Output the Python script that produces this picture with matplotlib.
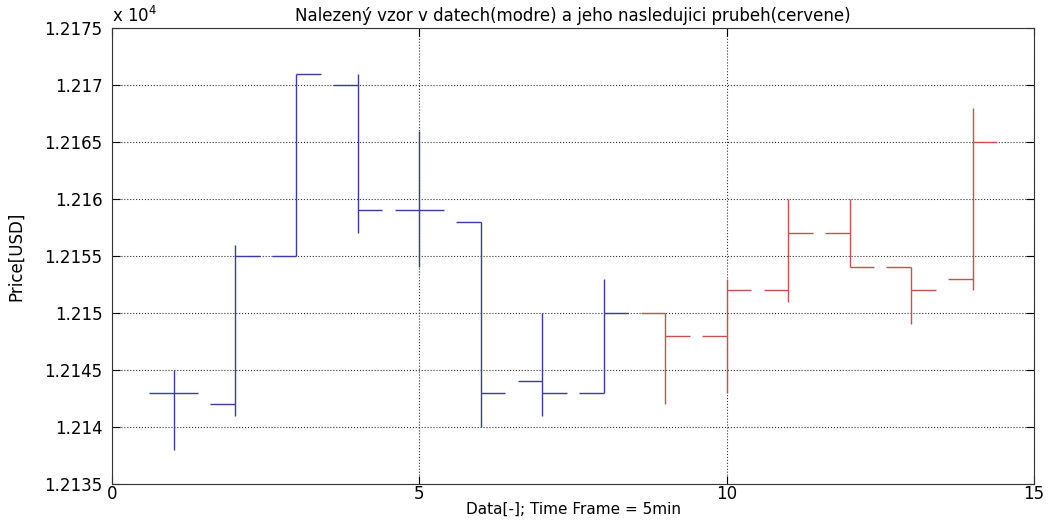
import numpy as np
import matplotlib.pyplot as plt
from matplotlib.ticker import FuncFormatter

plt.rcParams['font.family'] = ['DejaVu Sans']

# OHLC bars: found pattern (blue) and what followed it (red)
x_pattern = [1, 2, 3, 4, 5, 6, 7, 8]
open_pattern = [12143, 12142, 12155, 12170, 12159, 12158, 12144, 12143]
high_pattern = [12145, 12156, 12171, 12171, 12166, 12158, 12150, 12153]
low_pattern = [12138, 12141, 12155, 12157, 12154, 12140, 12141, 12143]
close_pattern = [12143, 12155, 12171, 12159, 12159, 12143, 12143, 12150]

x_next = [9, 10, 11, 12, 13, 14]
open_next = [12150, 12148, 12152, 12157, 12154, 12153]
high_next = [12150, 12153, 12160, 12160, 12154, 12168]
low_next = [12142, 12143, 12151, 12154, 12149, 12152]
close_next = [12148, 12152, 12157, 12154, 12152, 12165]

yticks = [12135, 12140, 12145, 12150, 12155, 12160, 12165, 12170, 12175]
xticks = [0, 5, 10, 15]


def highlow(ax, x, o, h, l, c, color, w=0.4):
    x = np.asarray(x, dtype=float)
    ax.vlines(x, l, h, color=color, lw=1.0)
    ax.hlines(o, x - w, x, color=color, lw=1.0)
    ax.hlines(c, x, x + w, color=color, lw=1.0)


fig = plt.figure(figsize=(10.54, 5.24), dpi=100)
ax = fig.add_axes([0.1063, 0.0763, 0.8747, 0.8703])

highlow(ax, x_pattern, open_pattern, high_pattern, low_pattern, close_pattern, '#3c3ca0')
highlow(ax, x_next, open_next, high_next, low_next, close_next, '#c85050')

ax.set_xlim(0, 15)
ax.set_ylim(12135, 12175)
ax.set_xticks(xticks)
ax.set_yticks(yticks)
ax.yaxis.set_major_formatter(FuncFormatter(lambda v, p: '%g' % round(v / 1e4, 4)))
ax.grid(True, linestyle=':', color='#333333', lw=0.8)
ax.tick_params(direction='in', length=6, top=True, right=True, labelsize=12, width=0.8)
ax.tick_params(axis='y', pad=7)
ax.tick_params(axis='x', pad=1)
for s in ax.spines.values():
    s.set_linewidth(0.8)
    s.set_color('#333333')

ax.set_title('Nalezený vzor v datech(modre) a jeho nasledujici prubeh(cervene)', fontsize=12, pad=5)
ax.set_xlabel('Data[-]; Time Frame = 5min', fontsize=11)
ax.xaxis.set_label_coords(0.5, -0.038)
ax.set_ylabel('Price[USD]', fontsize=12)
ax.yaxis.set_label_coords(-0.094, 0.5)
ax.text(0.0, 1.005, 'x 10$^4$', transform=ax.transAxes, fontsize=12, ha='left', va='bottom')

fig.savefig('out.png', dpi=100)
